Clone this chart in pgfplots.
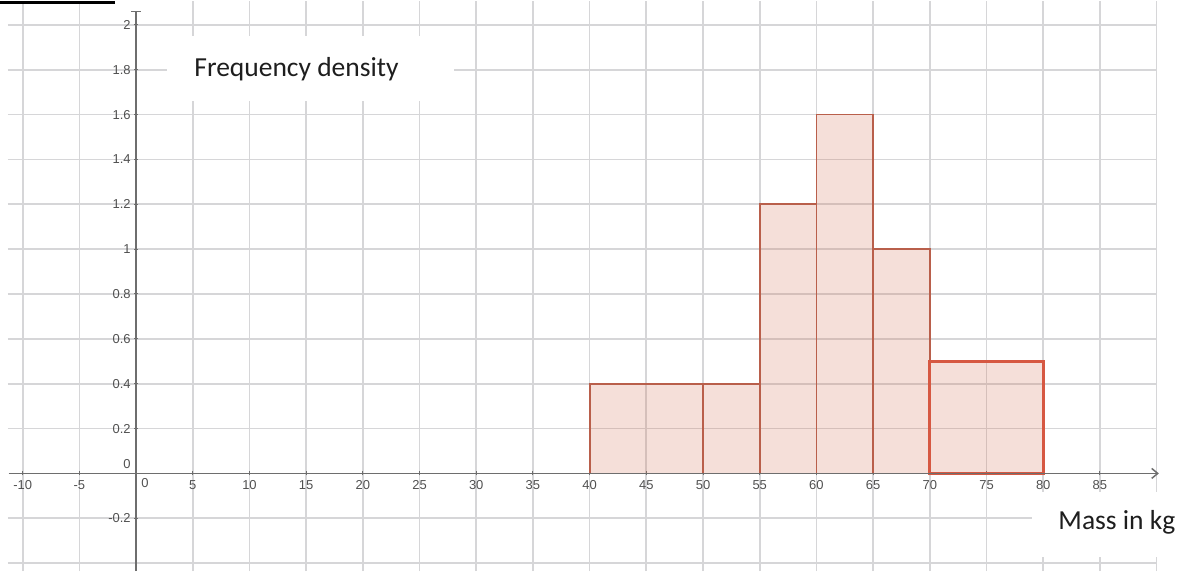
\documentclass[border=0pt]{standalone}
\usepackage{fontspec}
\usepackage{pgfplots}
\pgfplotsset{compat=1.18}
\usetikzlibrary{arrows.meta}
\setmainfont{Carlito}
\newfontfamily\tickfont{Liberation Sans}

\definecolor{gridgray}{RGB}{214,214,216}
\definecolor{axisgray}{RGB}{110,110,110}
\definecolor{ticktext}{RGB}{80,80,80}
\definecolor{barfill}{RGB}{210,110,80}
\definecolor{baredge}{RGB}{185,95,75}
\definecolor{lastedge}{RGB}{214,88,66}
\definecolor{labeltext}{RGB}{30,30,30}

\begin{document}
\begin{tikzpicture}
\begin{axis}[
  x=5.6875pt, y=112.5pt,
  xmin=-11.3, xmax=90.05, ymin=-0.436, ymax=2.107,
  axis lines=middle, axis line style={draw=none},
  clip=false,
  xtick={-10,-5,5,10,15,20,25,30,35,40,45,50,55,60,65,70,75,80,85},
  ytick={-0.2,0.2,0.4,0.6,0.8,1,1.2,1.4,1.6,1.8,2},
  extra x ticks={90}, extra x tick labels={},
  extra y ticks={-0.4}, extra y tick labels={},
  extra tick style={grid=major, major tick length=0pt},
  hide obscured x ticks=false, hide obscured y ticks=false,
  grid=major, grid style={gridgray, line width=0.85pt},
  major tick length=2pt, tick style={axisgray, line width=0.5pt},
  /pgf/number format/assume math mode=true,
  xticklabel style={font=\tickfont\fontsize{6.5}{7}\selectfont, text=ticktext,
    anchor=north, inner sep=0pt, yshift=-2.5pt},
  yticklabel style={font=\tickfont\fontsize{6.5}{7}\selectfont, text=ticktext,
    anchor=east, inner sep=0pt, xshift=-1.5pt},
]
% histogram bars (class boundaries, frequency density)
\addplot[ybar interval, fill=barfill, fill opacity=0.22, draw=baredge, line width=0.9pt]
  coordinates {(40,0.4) (50,0.4) (55,1.2) (60,1.6) (65,1.0) (70,1.0)};
\addplot[ybar interval, fill=barfill, fill opacity=0.22, draw=lastedge, line width=1.5pt]
  coordinates {(70,0.5) (80,0.5)};

% axes
\draw[axisgray, line width=0.75pt, -{Straight Barb[length=3pt,width=5pt]}]
  (axis cs:-11.25,0) -- (axis cs:90.2,0);
\draw[axisgray, line width=0.75pt, -{Bar[width=5pt]}]
  (axis cs:0,-0.436) -- (axis cs:0,2.062);
\node[font=\tickfont\fontsize{6.5}{7}\selectfont, text=ticktext, anchor=north west,
  inner sep=0pt] at ([xshift=2.5pt,yshift=-2.5pt]axis cs:0,0) {0};
\node[font=\tickfont\fontsize{6.5}{7}\selectfont, text=ticktext, anchor=south east,
  inner sep=0pt] at ([xshift=-2.5pt,yshift=2pt]axis cs:0,0) {0};

% labels
\fill[white] (axis cs:2.73,1.662) rectangle (axis cs:28.04,1.951);
\node[font=\fontsize{13.8}{16}\selectfont, text=labeltext] at (axis cs:14.15,1.804) {Frequency density};
\fill[white] (axis cs:79.03,-0.373) rectangle (axis cs:92,-0.084);
\node[font=\fontsize{13.8}{16}\selectfont, text=labeltext] at (axis cs:86.5,-0.218) {Mass in kg};

% cropped underline at the top edge
\fill[black] (axis cs:-12,2.107) rectangle (axis cs:-1.85,2.095);
% bounding box of the whole view
\path (axis cs:-12,-0.436) rectangle (axis cs:92,2.107);
\end{axis}
\end{tikzpicture}
\end{document}
